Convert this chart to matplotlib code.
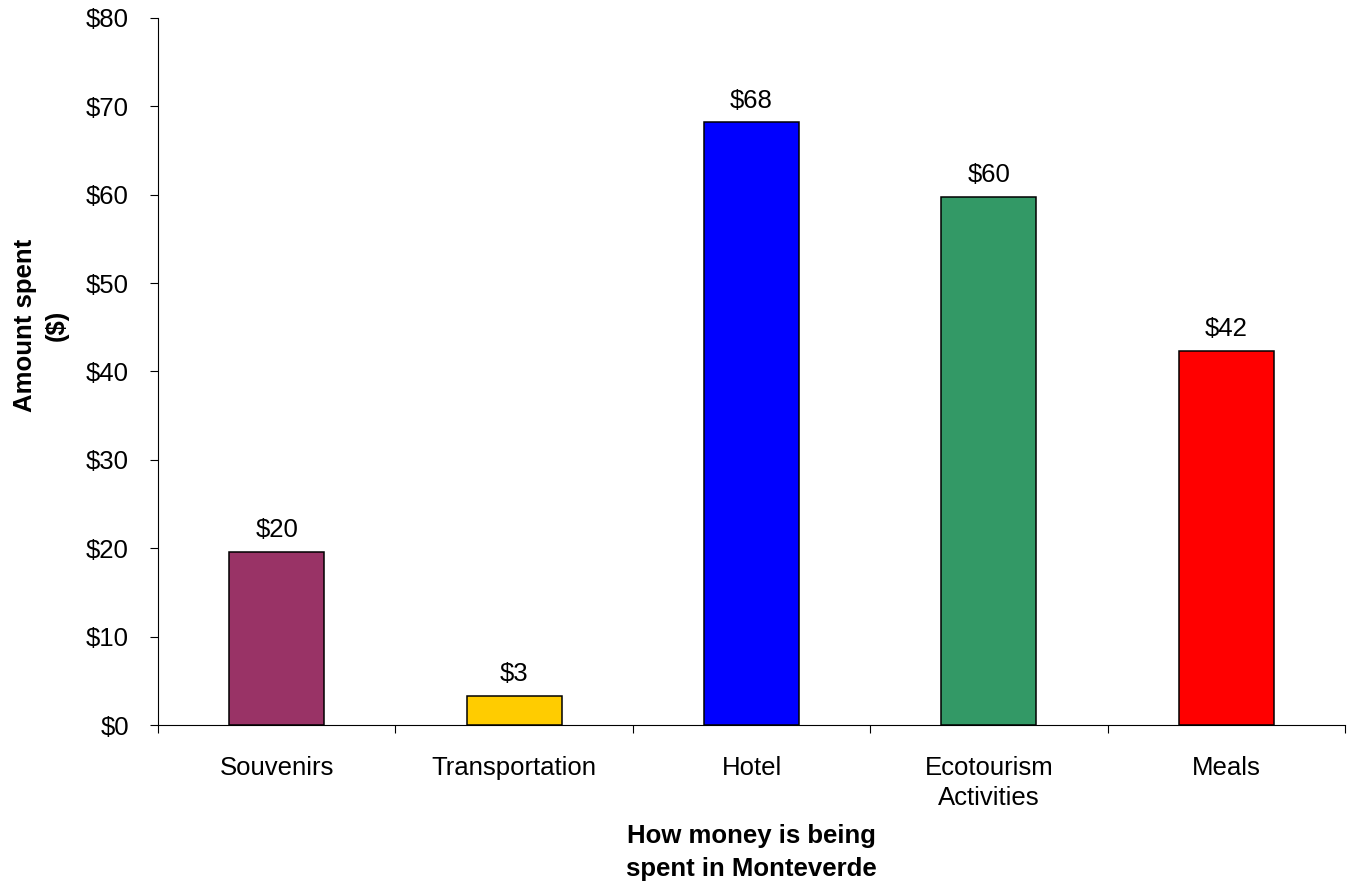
import numpy as np
import matplotlib
matplotlib.use('Agg')
import matplotlib.pyplot as plt
from matplotlib.ticker import FixedLocator, FuncFormatter

plt.rcParams['font.family'] = ['Liberation Sans', 'DejaVu Sans']

# data
categories = ['Souvenirs', 'Transportation', 'Hotel', 'Ecotourism\nActivities', 'Meals']
amounts = [19.6, 3.3, 68.2, 59.8, 42.3]
bar_colors = ['#993366', '#FFCC00', '#0000FF', '#339966', '#FF0000']
y_ticks = [0, 10, 20, 30, 40, 50, 60, 70, 80]

fig = plt.figure(figsize=(13.53, 8.88), dpi=100)
ax = fig.add_axes([158/1353, 1-725/888, (1345-158)/1353, (725-18)/888])

x = np.arange(len(categories))
bars = ax.bar(x, amounts, width=0.4, color=bar_colors, edgecolor='black', linewidth=1.1, zorder=3)

# value labels above bars
for xi, v in zip(x, amounts):
    ax.annotate('$%d' % round(v), (xi, v), xytext=(0, 7), textcoords='offset points',
                ha='center', va='bottom', fontsize=18.5)

ax.set_xlim(-0.5, len(categories) - 0.5)
ax.set_ylim(0, 80)

ax.set_yticks(y_ticks)
ax.yaxis.set_major_formatter(FuncFormatter(lambda v, p: '$%d' % v))
ax.tick_params(axis='y', direction='out', length=6, width=0.8, pad=15, labelsize=18.5)

# category labels at centres, tick marks at the boundaries
ax.set_xticks(x)
ax.set_xticklabels(categories, fontsize=18.5, linespacing=1.36)
ax.tick_params(axis='x', which='major', length=0, pad=22)
ax.xaxis.set_minor_locator(FixedLocator(np.arange(-0.5, len(categories), 1.0)))
ax.tick_params(axis='x', which='minor', direction='out', length=6, width=0.8)

for side in ['top', 'right']:
    ax.spines[side].set_visible(False)
for side in ['left', 'bottom']:
    ax.spines[side].set_linewidth(0.8)

ax.set_xlabel('How money is being\nspent in Monteverde', fontsize=18.5, fontweight='bold', linespacing=1.45)
ax.xaxis.set_label_coords(0.5, -0.14)
ax.xaxis.label.set_va('top')

fig.text(41/1353, 1-325/888, 'Amount spent\n($)', rotation=90, ha='center', va='center',
         fontsize=18.5, fontweight='bold', linespacing=1.4)

fig.savefig('out.png', dpi=100)
